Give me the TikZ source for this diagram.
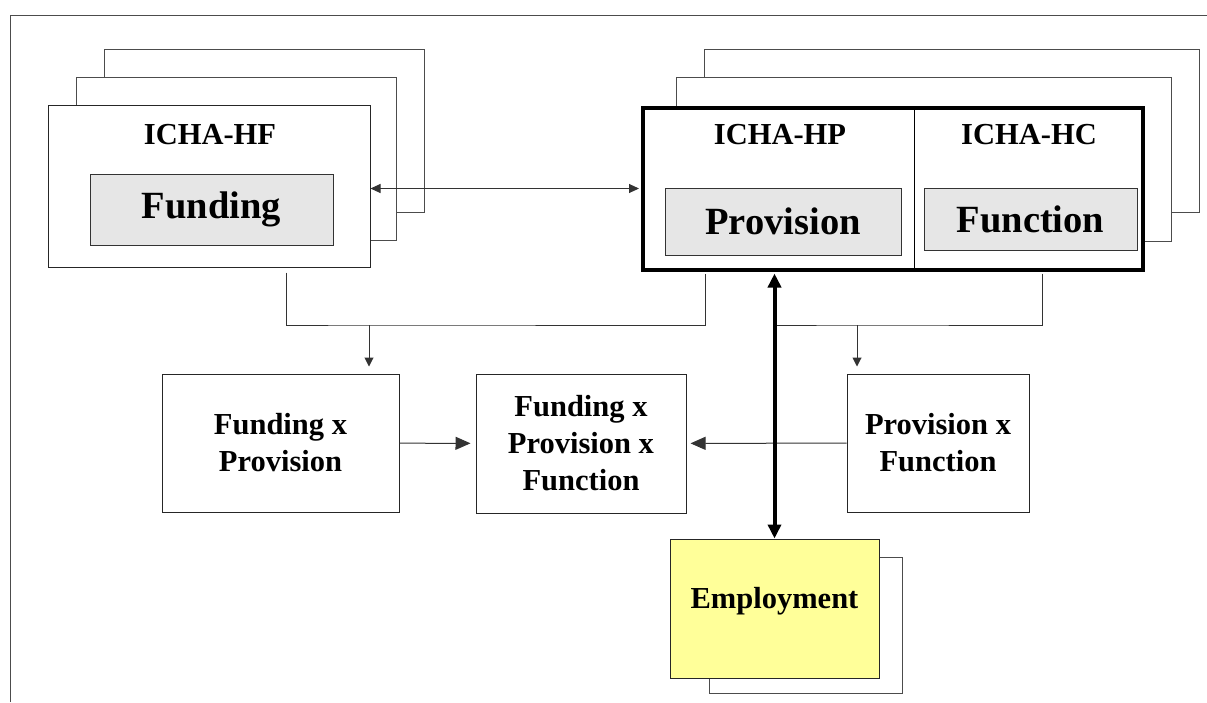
\documentclass[tikz,border=0pt]{standalone}
\usepackage{fontspec}
\setmainfont{Liberation Serif}
\usetikzlibrary{arrows.meta,positioning,calc}
\definecolor{panelgray}{HTML}{E6E6E6}
\definecolor{empyellow}{HTML}{FFFF99}

\begin{document}
\begin{tikzpicture}[x=1pt,y=-1pt,>=Triangle,box/.style={draw=black!85,fill=white,line width=1pt,inner sep=0pt,align=center,font=\bfseries\fontsize{30.5}{37}\selectfont},back/.style={draw=black!70,fill=white,line width=1pt,inner sep=0pt},inbox/.style={draw=black!80,fill=panelgray,line width=1pt,inner sep=0pt,font=\bfseries\fontsize{38.5}{46}\selectfont},tag/.style={inner sep=0pt,font=\bfseries\fontsize{30.5}{37}\selectfont},link/.style={draw=black!80,line width=1pt},sarr/.style={-{Triangle[length=9pt,width=9pt]}},harr/.style={-{Triangle[length=15pt,width=13pt]}},darr/.style={{Triangle[length=10pt,width=9pt]}-{Triangle[length=10pt,width=9pt]}}]
\useasboundingbox (0,0) rectangle (1207,702);
\draw[line width=1pt,black!70] (10,702) -- (10,15) -- (1207,15);
\node[back,minimum width=320pt,minimum height=163pt] (hfb2) at (264,130.5) {};
\node[back,minimum width=320pt,minimum height=163pt] (hfb1) at (236,158.5) {};
\node[box,minimum width=322pt,minimum height=162pt] (hf) at (209,186) {};
\node[tag] (hftag) at (210,135) {ICHA-HF};
\node[inbox,minimum width=243pt,minimum height=71pt] (fund) at (211.5,209.5) {Funding};
\node[back,minimum width=495pt,minimum height=163pt] (coreb2) at (951.5,130.5) {};
\node[back,minimum width=495pt,minimum height=164pt] (coreb1) at (923.5,159) {};
\node[box,draw=black,line width=4pt,minimum width=500pt,minimum height=162pt] (core) at (893,188.5) {};
\draw[line width=1pt] ([xshift=21pt,yshift=-2pt]core.north) -- ([xshift=21pt,yshift=2pt]core.south);
\node[tag] (hptag) at (780,135) {ICHA-HP};
\node[tag] (hctag) at (1029,135) {ICHA-HC};
\node[inbox,minimum width=236pt,minimum height=67pt] (prov) at (783,221.5) {Provision};
\node[inbox,minimum width=213pt,minimum height=62pt] (func) at (1030.5,219) {Function};
\node[box,minimum width=237pt,minimum height=138pt] (fxp) at (280.5,443) {Funding x\\Provision};
\node[box,minimum width=210pt,minimum height=139pt] (fxpxf) at (581,443.5) {Funding x\\Provision x\\Function};
\node[box,minimum width=182pt,minimum height=138pt] (pxf) at (938,443) {Provision x\\Function};
\node[back,minimum width=193pt,minimum height=136pt] (empb) at (805.5,625) {};
\node[box,fill=empyellow,minimum width=209pt,minimum height=139pt,text depth=21.5pt] (emp) at (774.5,608.5) {Employment};
\draw[link,darr,shorten >=2pt] (core.west -| hf.east) -- (core.west);
\coordinate (busL) at (369,325);
\coordinate (busR) at (857,325);
\draw[link] ([xshift=77pt,yshift=-5pt]hf.south) |- (busL) -| ([xshift=-188pt,yshift=-2pt]core.south);
\draw[link,sarr,shorten >=7pt] (busL) -- (busL |- fxp.north);
\draw[link] ([xshift=149pt,yshift=-2pt]core.south) |- (busR) -- (busR -| emp.north);
\draw[link,sarr,shorten >=7pt] (busR) -- (busR |- pxf.north);
\draw[link,harr,shorten >=5pt] (fxp) -- (fxpxf);
\draw[link,harr,shorten >=4pt] (pxf) -- (fxpxf);
\draw[line width=4pt,{Triangle[length=14pt,width=13pt]}-{Triangle[length=14pt,width=13pt]}] ([yshift=-2pt]core.south -| emp.north) -- (emp.north);
\end{tikzpicture}
\end{document}
